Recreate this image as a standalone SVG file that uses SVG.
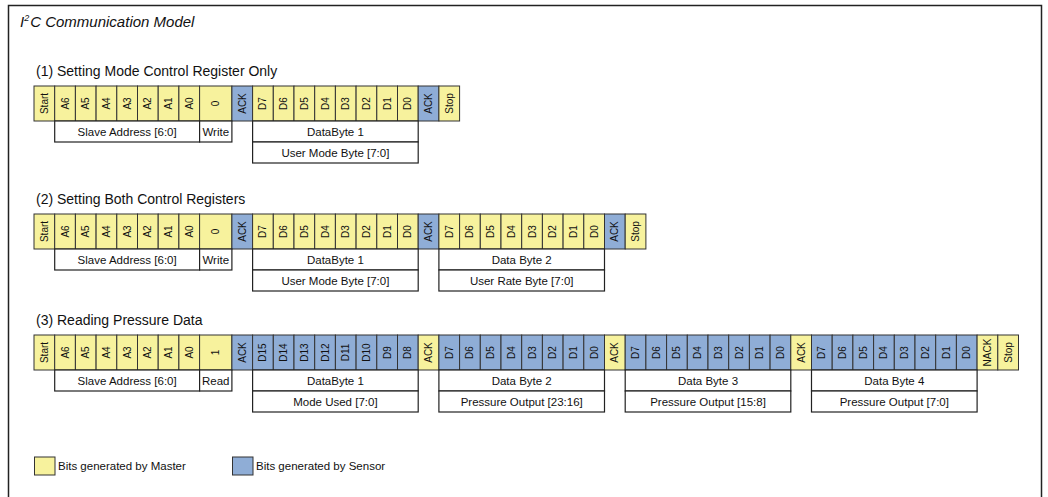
<svg xmlns="http://www.w3.org/2000/svg" width="1048" height="497" viewBox="0 0 1048 497">
<style>
text{font-family:"Liberation Sans",Arial,sans-serif;fill:#111}
.y{fill:#f7f29d;stroke:#333;stroke-width:1}
.b{fill:#8fadd6;stroke:#333;stroke-width:1}
.w{fill:#fff;stroke:#222;stroke-width:1.2}
.t{font-size:10px;text-anchor:middle;dominant-baseline:central}
.l{font-size:11.5px;text-anchor:middle;dominant-baseline:central}
.h{font-size:14px}
.g{font-size:11.5px;dominant-baseline:central}
</style>
<rect x="0" y="0" width="1048" height="497" fill="#fff"/>
<rect x="8.5" y="5.5" width="1033" height="500" fill="none" stroke="#222" stroke-width="1.5"/>
<g id="title">
<text x="20" y="27" font-size="15" font-style="italic">I<tspan font-size="9" dy="-6">2</tspan><tspan dy="6" dx="1">C Communication Model</tspan></text>
</g>

<g id="row1">
<text class="h" x="36" y="76">(1) Setting Mode Control Register Only</text>
<g transform="translate(0,86)">
<rect class="y" x="34" y="0" width="20.7" height="35"/>
<rect class="y" x="54.7" y="0" width="20.7" height="35"/>
<rect class="y" x="75.4" y="0" width="20.7" height="35"/>
<rect class="y" x="96.1" y="0" width="20.7" height="35"/>
<rect class="y" x="116.8" y="0" width="20.7" height="35"/>
<rect class="y" x="137.5" y="0" width="20.7" height="35"/>
<rect class="y" x="158.2" y="0" width="20.7" height="35"/>
<rect class="y" x="178.9" y="0" width="20.7" height="35"/>
<rect class="y" x="199.6" y="0" width="32.3" height="35"/>
<rect class="b" x="231.9" y="0" width="20.7" height="35"/>
<rect class="y" x="252.6" y="0" width="20.7" height="35"/>
<rect class="y" x="273.3" y="0" width="20.7" height="35"/>
<rect class="y" x="294" y="0" width="20.7" height="35"/>
<rect class="y" x="314.7" y="0" width="20.7" height="35"/>
<rect class="y" x="335.4" y="0" width="20.7" height="35"/>
<rect class="y" x="356.1" y="0" width="20.7" height="35"/>
<rect class="y" x="376.8" y="0" width="20.7" height="35"/>
<rect class="y" x="397.5" y="0" width="20.7" height="35"/>
<rect class="b" x="418.2" y="0" width="20.7" height="35"/>
<rect class="y" x="438.9" y="0" width="20.7" height="35"/>
<text class="t" transform="translate(44.35,17.5) rotate(-90)">Start</text>
<text class="t" transform="translate(65.05,17.5) rotate(-90)">A6</text>
<text class="t" transform="translate(85.75,17.5) rotate(-90)">A5</text>
<text class="t" transform="translate(106.45,17.5) rotate(-90)">A4</text>
<text class="t" transform="translate(127.15,17.5) rotate(-90)">A3</text>
<text class="t" transform="translate(147.85,17.5) rotate(-90)">A2</text>
<text class="t" transform="translate(168.55,17.5) rotate(-90)">A1</text>
<text class="t" transform="translate(189.25,17.5) rotate(-90)">A0</text>
<text class="t" transform="translate(215.75,17.5) rotate(-90)">0</text>
<text class="t" transform="translate(242.25,17.5) rotate(-90)">ACK</text>
<text class="t" transform="translate(262.95,17.5) rotate(-90)">D7</text>
<text class="t" transform="translate(283.65,17.5) rotate(-90)">D6</text>
<text class="t" transform="translate(304.35,17.5) rotate(-90)">D5</text>
<text class="t" transform="translate(325.05,17.5) rotate(-90)">D4</text>
<text class="t" transform="translate(345.75,17.5) rotate(-90)">D3</text>
<text class="t" transform="translate(366.45,17.5) rotate(-90)">D2</text>
<text class="t" transform="translate(387.15,17.5) rotate(-90)">D1</text>
<text class="t" transform="translate(407.85,17.5) rotate(-90)">D0</text>
<text class="t" transform="translate(428.55,17.5) rotate(-90)">ACK</text>
<text class="t" transform="translate(449.25,17.5) rotate(-90)">Stop</text>
<rect class="w" x="54.7" y="35" width="144.9" height="21"/>
<text class="l" x="127.15" y="45.5">Slave Address [6:0]</text>
<rect class="w" x="199.6" y="35" width="32.3" height="21"/>
<text class="l" x="215.75" y="45.5">Write</text>
<rect class="w" x="252.6" y="35" width="165.6" height="21"/>
<text class="l" x="335.4" y="45.5">DataByte 1</text>
<rect class="w" x="252.6" y="56" width="165.6" height="21"/>
<text class="l" x="335.4" y="66.5">User Mode Byte [7:0]</text>
</g>
</g>

<g id="row2">
<text class="h" x="36" y="204">(2) Setting Both Control Registers</text>
<g transform="translate(0,214)">
<rect class="y" x="34" y="0" width="20.7" height="35"/>
<rect class="y" x="54.7" y="0" width="20.7" height="35"/>
<rect class="y" x="75.4" y="0" width="20.7" height="35"/>
<rect class="y" x="96.1" y="0" width="20.7" height="35"/>
<rect class="y" x="116.8" y="0" width="20.7" height="35"/>
<rect class="y" x="137.5" y="0" width="20.7" height="35"/>
<rect class="y" x="158.2" y="0" width="20.7" height="35"/>
<rect class="y" x="178.9" y="0" width="20.7" height="35"/>
<rect class="y" x="199.6" y="0" width="32.3" height="35"/>
<rect class="b" x="231.9" y="0" width="20.7" height="35"/>
<rect class="y" x="252.6" y="0" width="20.7" height="35"/>
<rect class="y" x="273.3" y="0" width="20.7" height="35"/>
<rect class="y" x="294" y="0" width="20.7" height="35"/>
<rect class="y" x="314.7" y="0" width="20.7" height="35"/>
<rect class="y" x="335.4" y="0" width="20.7" height="35"/>
<rect class="y" x="356.1" y="0" width="20.7" height="35"/>
<rect class="y" x="376.8" y="0" width="20.7" height="35"/>
<rect class="y" x="397.5" y="0" width="20.7" height="35"/>
<rect class="b" x="418.2" y="0" width="20.7" height="35"/>
<rect class="y" x="438.9" y="0" width="20.7" height="35"/>
<rect class="y" x="459.6" y="0" width="20.7" height="35"/>
<rect class="y" x="480.3" y="0" width="20.7" height="35"/>
<rect class="y" x="501" y="0" width="20.7" height="35"/>
<rect class="y" x="521.7" y="0" width="20.7" height="35"/>
<rect class="y" x="542.4" y="0" width="20.7" height="35"/>
<rect class="y" x="563.1" y="0" width="20.7" height="35"/>
<rect class="y" x="583.8" y="0" width="20.7" height="35"/>
<rect class="b" x="604.5" y="0" width="20.7" height="35"/>
<rect class="y" x="625.2" y="0" width="20.7" height="35"/>
<text class="t" transform="translate(44.35,17.5) rotate(-90)">Start</text>
<text class="t" transform="translate(65.05,17.5) rotate(-90)">A6</text>
<text class="t" transform="translate(85.75,17.5) rotate(-90)">A5</text>
<text class="t" transform="translate(106.45,17.5) rotate(-90)">A4</text>
<text class="t" transform="translate(127.15,17.5) rotate(-90)">A3</text>
<text class="t" transform="translate(147.85,17.5) rotate(-90)">A2</text>
<text class="t" transform="translate(168.55,17.5) rotate(-90)">A1</text>
<text class="t" transform="translate(189.25,17.5) rotate(-90)">A0</text>
<text class="t" transform="translate(215.75,17.5) rotate(-90)">0</text>
<text class="t" transform="translate(242.25,17.5) rotate(-90)">ACK</text>
<text class="t" transform="translate(262.95,17.5) rotate(-90)">D7</text>
<text class="t" transform="translate(283.65,17.5) rotate(-90)">D6</text>
<text class="t" transform="translate(304.35,17.5) rotate(-90)">D5</text>
<text class="t" transform="translate(325.05,17.5) rotate(-90)">D4</text>
<text class="t" transform="translate(345.75,17.5) rotate(-90)">D3</text>
<text class="t" transform="translate(366.45,17.5) rotate(-90)">D2</text>
<text class="t" transform="translate(387.15,17.5) rotate(-90)">D1</text>
<text class="t" transform="translate(407.85,17.5) rotate(-90)">D0</text>
<text class="t" transform="translate(428.55,17.5) rotate(-90)">ACK</text>
<text class="t" transform="translate(449.25,17.5) rotate(-90)">D7</text>
<text class="t" transform="translate(469.95,17.5) rotate(-90)">D6</text>
<text class="t" transform="translate(490.65,17.5) rotate(-90)">D5</text>
<text class="t" transform="translate(511.35,17.5) rotate(-90)">D4</text>
<text class="t" transform="translate(532.05,17.5) rotate(-90)">D3</text>
<text class="t" transform="translate(552.75,17.5) rotate(-90)">D2</text>
<text class="t" transform="translate(573.45,17.5) rotate(-90)">D1</text>
<text class="t" transform="translate(594.15,17.5) rotate(-90)">D0</text>
<text class="t" transform="translate(614.85,17.5) rotate(-90)">ACK</text>
<text class="t" transform="translate(635.55,17.5) rotate(-90)">Stop</text>
<rect class="w" x="54.7" y="35" width="144.9" height="21"/>
<text class="l" x="127.15" y="45.5">Slave Address [6:0]</text>
<rect class="w" x="199.6" y="35" width="32.3" height="21"/>
<text class="l" x="215.75" y="45.5">Write</text>
<rect class="w" x="252.6" y="35" width="165.6" height="21"/>
<text class="l" x="335.4" y="45.5">DataByte 1</text>
<rect class="w" x="252.6" y="56" width="165.6" height="21"/>
<text class="l" x="335.4" y="66.5">User Mode Byte [7:0]</text>
<rect class="w" x="438.9" y="35" width="165.6" height="21"/>
<text class="l" x="521.7" y="45.5">Data Byte 2</text>
<rect class="w" x="438.9" y="56" width="165.6" height="21"/>
<text class="l" x="521.7" y="66.5">User Rate Byte [7:0]</text>
</g>
</g>

<g id="row3">
<text class="h" x="36" y="325">(3) Reading Pressure Data</text>
<g transform="translate(0,335)">
<rect class="y" x="34" y="0" width="20.7" height="35"/>
<rect class="y" x="54.7" y="0" width="20.7" height="35"/>
<rect class="y" x="75.4" y="0" width="20.7" height="35"/>
<rect class="y" x="96.1" y="0" width="20.7" height="35"/>
<rect class="y" x="116.8" y="0" width="20.7" height="35"/>
<rect class="y" x="137.5" y="0" width="20.7" height="35"/>
<rect class="y" x="158.2" y="0" width="20.7" height="35"/>
<rect class="y" x="178.9" y="0" width="20.7" height="35"/>
<rect class="y" x="199.6" y="0" width="32.3" height="35"/>
<rect class="b" x="231.9" y="0" width="20.7" height="35"/>
<rect class="b" x="252.6" y="0" width="20.7" height="35"/>
<rect class="b" x="273.3" y="0" width="20.7" height="35"/>
<rect class="b" x="294" y="0" width="20.7" height="35"/>
<rect class="b" x="314.7" y="0" width="20.7" height="35"/>
<rect class="b" x="335.4" y="0" width="20.7" height="35"/>
<rect class="b" x="356.1" y="0" width="20.7" height="35"/>
<rect class="b" x="376.8" y="0" width="20.7" height="35"/>
<rect class="b" x="397.5" y="0" width="20.7" height="35"/>
<rect class="y" x="418.2" y="0" width="20.7" height="35"/>
<rect class="b" x="438.9" y="0" width="20.7" height="35"/>
<rect class="b" x="459.6" y="0" width="20.7" height="35"/>
<rect class="b" x="480.3" y="0" width="20.7" height="35"/>
<rect class="b" x="501" y="0" width="20.7" height="35"/>
<rect class="b" x="521.7" y="0" width="20.7" height="35"/>
<rect class="b" x="542.4" y="0" width="20.7" height="35"/>
<rect class="b" x="563.1" y="0" width="20.7" height="35"/>
<rect class="b" x="583.8" y="0" width="20.7" height="35"/>
<rect class="y" x="604.5" y="0" width="20.7" height="35"/>
<rect class="b" x="625.2" y="0" width="20.7" height="35"/>
<rect class="b" x="645.9" y="0" width="20.7" height="35"/>
<rect class="b" x="666.6" y="0" width="20.7" height="35"/>
<rect class="b" x="687.3" y="0" width="20.7" height="35"/>
<rect class="b" x="708" y="0" width="20.7" height="35"/>
<rect class="b" x="728.7" y="0" width="20.7" height="35"/>
<rect class="b" x="749.4" y="0" width="20.7" height="35"/>
<rect class="b" x="770.1" y="0" width="20.7" height="35"/>
<rect class="y" x="790.8" y="0" width="20.7" height="35"/>
<rect class="b" x="811.5" y="0" width="20.7" height="35"/>
<rect class="b" x="832.2" y="0" width="20.7" height="35"/>
<rect class="b" x="852.9" y="0" width="20.7" height="35"/>
<rect class="b" x="873.6" y="0" width="20.7" height="35"/>
<rect class="b" x="894.3" y="0" width="20.7" height="35"/>
<rect class="b" x="915" y="0" width="20.7" height="35"/>
<rect class="b" x="935.7" y="0" width="20.7" height="35"/>
<rect class="b" x="956.4" y="0" width="20.7" height="35"/>
<rect class="y" x="977.1" y="0" width="20.7" height="35"/>
<rect class="y" x="997.8" y="0" width="20.7" height="35"/>
<text class="t" transform="translate(44.35,17.5) rotate(-90)">Start</text>
<text class="t" transform="translate(65.05,17.5) rotate(-90)">A6</text>
<text class="t" transform="translate(85.75,17.5) rotate(-90)">A5</text>
<text class="t" transform="translate(106.45,17.5) rotate(-90)">A4</text>
<text class="t" transform="translate(127.15,17.5) rotate(-90)">A3</text>
<text class="t" transform="translate(147.85,17.5) rotate(-90)">A2</text>
<text class="t" transform="translate(168.55,17.5) rotate(-90)">A1</text>
<text class="t" transform="translate(189.25,17.5) rotate(-90)">A0</text>
<text class="t" transform="translate(215.75,17.5) rotate(-90)">1</text>
<text class="t" transform="translate(242.25,17.5) rotate(-90)">ACK</text>
<text class="t" transform="translate(262.95,17.5) rotate(-90)">D15</text>
<text class="t" transform="translate(283.65,17.5) rotate(-90)">D14</text>
<text class="t" transform="translate(304.35,17.5) rotate(-90)">D13</text>
<text class="t" transform="translate(325.05,17.5) rotate(-90)">D12</text>
<text class="t" transform="translate(345.75,17.5) rotate(-90)">D11</text>
<text class="t" transform="translate(366.45,17.5) rotate(-90)">D10</text>
<text class="t" transform="translate(387.15,17.5) rotate(-90)">D9</text>
<text class="t" transform="translate(407.85,17.5) rotate(-90)">D8</text>
<text class="t" transform="translate(428.55,17.5) rotate(-90)">ACK</text>
<text class="t" transform="translate(449.25,17.5) rotate(-90)">D7</text>
<text class="t" transform="translate(469.95,17.5) rotate(-90)">D6</text>
<text class="t" transform="translate(490.65,17.5) rotate(-90)">D5</text>
<text class="t" transform="translate(511.35,17.5) rotate(-90)">D4</text>
<text class="t" transform="translate(532.05,17.5) rotate(-90)">D3</text>
<text class="t" transform="translate(552.75,17.5) rotate(-90)">D2</text>
<text class="t" transform="translate(573.45,17.5) rotate(-90)">D1</text>
<text class="t" transform="translate(594.15,17.5) rotate(-90)">D0</text>
<text class="t" transform="translate(614.85,17.5) rotate(-90)">ACK</text>
<text class="t" transform="translate(635.55,17.5) rotate(-90)">D7</text>
<text class="t" transform="translate(656.25,17.5) rotate(-90)">D6</text>
<text class="t" transform="translate(676.95,17.5) rotate(-90)">D5</text>
<text class="t" transform="translate(697.65,17.5) rotate(-90)">D4</text>
<text class="t" transform="translate(718.35,17.5) rotate(-90)">D3</text>
<text class="t" transform="translate(739.05,17.5) rotate(-90)">D2</text>
<text class="t" transform="translate(759.75,17.5) rotate(-90)">D1</text>
<text class="t" transform="translate(780.45,17.5) rotate(-90)">D0</text>
<text class="t" transform="translate(801.15,17.5) rotate(-90)">ACK</text>
<text class="t" transform="translate(821.85,17.5) rotate(-90)">D7</text>
<text class="t" transform="translate(842.55,17.5) rotate(-90)">D6</text>
<text class="t" transform="translate(863.25,17.5) rotate(-90)">D5</text>
<text class="t" transform="translate(883.95,17.5) rotate(-90)">D4</text>
<text class="t" transform="translate(904.65,17.5) rotate(-90)">D3</text>
<text class="t" transform="translate(925.35,17.5) rotate(-90)">D2</text>
<text class="t" transform="translate(946.05,17.5) rotate(-90)">D1</text>
<text class="t" transform="translate(966.75,17.5) rotate(-90)">D0</text>
<text class="t" transform="translate(987.45,17.5) rotate(-90)">NACK</text>
<text class="t" transform="translate(1008.15,17.5) rotate(-90)">Stop</text>
<rect class="w" x="54.7" y="35" width="144.9" height="21"/>
<text class="l" x="127.15" y="45.5">Slave Address [6:0]</text>
<rect class="w" x="199.6" y="35" width="32.3" height="21"/>
<text class="l" x="215.75" y="45.5">Read</text>
<rect class="w" x="252.6" y="35" width="165.6" height="21"/>
<text class="l" x="335.4" y="45.5">DataByte 1</text>
<rect class="w" x="252.6" y="56" width="165.6" height="21"/>
<text class="l" x="335.4" y="66.5">Mode Used [7:0]</text>
<rect class="w" x="438.9" y="35" width="165.6" height="21"/>
<text class="l" x="521.7" y="45.5">Data Byte 2</text>
<rect class="w" x="438.9" y="56" width="165.6" height="21"/>
<text class="l" x="521.7" y="66.5">Pressure Output [23:16]</text>
<rect class="w" x="625.2" y="35" width="165.6" height="21"/>
<text class="l" x="708" y="45.5">Data Byte 3</text>
<rect class="w" x="625.2" y="56" width="165.6" height="21"/>
<text class="l" x="708" y="66.5">Pressure Output [15:8]</text>
<rect class="w" x="811.5" y="35" width="165.6" height="21"/>
<text class="l" x="894.3" y="45.5">Data Byte 4</text>
<rect class="w" x="811.5" y="56" width="165.6" height="21"/>
<text class="l" x="894.3" y="66.5">Pressure Output [7:0]</text>
</g>
</g>

<g id="legend-master">
<rect class="y" x="34.5" y="457" width="20.5" height="18"/>
<text class="g" x="58" y="466">Bits generated by Master</text>
</g>
<g id="legend-sensor">
<rect class="b" x="232.5" y="457" width="20.5" height="18"/>
<text class="g" x="256" y="466">Bits generated by Sensor</text>
</g>
<g id="connectors"/>
</svg>
